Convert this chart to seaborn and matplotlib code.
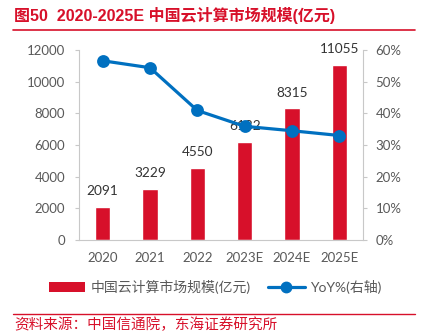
import matplotlib
matplotlib.use("Agg")
import matplotlib.pyplot as plt
import seaborn as sns
import pandas as pd
from matplotlib.lines import Line2D
from matplotlib.patches import Patch

categories = ["2020", "2021", "2022", "2023E", "2024E", "2025E"]
market_size = [2091, 3229, 4550, 6182, 8315, 11055]
yoy = [56.6, 54.4, 40.9, 35.9, 34.5, 33.0]
left_ticks = [0, 2000, 4000, 6000, 8000, 10000, 12000]
right_ticks = [0, 10, 20, 30, 40, 50, 60]

sns.set_style("white")
plt.rcParams['font.family'] = ['Lato', 'Noto Sans CJK SC', 'DejaVu Sans']

RED = "#d7102a"
BLUE = "#0070c0"
GRAY = "#595959"
SPINE = "#c8c8c8"

df = pd.DataFrame({"year": categories, "size": market_size, "yoy": yoy})

fig = plt.figure(figsize=(4.21, 3.34), dpi=100)
W, H = 421, 334
ax = fig.add_axes([79 / W, 1 - 240 / H, (363 - 79) / W, (240 - 50) / H])

sns.barplot(data=df, x="year", y="size", color=RED, width=0.32, ax=ax,
            saturation=1, order=categories)
ax.set_xlim(-0.5, 5.5)
ax.set_ylim(0, 12000)
ax.set_yticks(left_ticks)
ax.set_xlabel("")
ax.set_ylabel("")
ax.bar_label(ax.containers[0], labels=[str(v) for v in market_size],
             padding=7, fontsize=9.8, color="#333333")

ax2 = ax.twinx()
sns.pointplot(data=df, x="year", y="yoy", color=BLUE, markers="o",
              linestyles="-", ax=ax2, order=categories, markersize=7.5,
              linewidth=2.3)
ax2.set_xlim(-0.5, 5.5)
ax2.set_ylim(0, 60)
ax2.set_yticks(right_ticks)
ax2.set_yticklabels([f"{t}%" for t in right_ticks])
ax2.set_ylabel("")
ax2.set_xlabel("")

for a in (ax, ax2):
    a.spines["top"].set_visible(False)
    for s in ["left", "right", "bottom"]:
        a.spines[s].set_color(SPINE)
        a.spines[s].set_linewidth(0.8)
    a.tick_params(axis="y", colors=GRAY, labelsize=9.5, length=3, width=0.8,
                  color=SPINE, pad=7)
ax2.tick_params(axis="y", pad=6)
ax2.spines["left"].set_visible(False)
ax2.spines["bottom"].set_visible(False)
ax.spines["right"].set_visible(False)

ax.set_xticks(range(len(categories)))
ax.set_xticklabels(categories)
ax.tick_params(axis="x", colors=GRAY, labelsize=9.5, length=0, pad=9)
ax.set_xticks([i - 0.5 for i in range(len(categories) + 1)], minor=True)
ax.tick_params(axis="x", which="minor", length=3, width=0.8, color=SPINE)

# title
fig.text(14 / W, 1 - 16 / H, "图50  2020-2025E 中国云计算市场规模(亿元)",
         color=RED, fontsize=11.5, fontweight="bold", va="center", ha="left",
         family=["Liberation Sans", "Noto Sans CJK SC"])
fig.add_artist(Line2D([13 / W, 415 / W], [1 - 30 / H, 1 - 30 / H],
                      color=RED, lw=1.2))

# legend
handles = [Patch(facecolor=RED, edgecolor="none"),
           Line2D([0], [0], color=BLUE, lw=2.3, marker="o", markersize=7.5)]
fig.legend(handles, ["中国云计算市场规模(亿元)", "YoY%(右轴)"],
           loc="center", bbox_to_anchor=(215 / W, 1 - 287 / H), ncol=2,
           frameon=False, fontsize=10, handlelength=2.6, columnspacing=1.3,
           handletextpad=0.4, labelcolor=GRAY)

# source
fig.add_artist(Line2D([13 / W, 415 / W], [1 - 314 / H, 1 - 314 / H],
                      color=RED, lw=1.0))
fig.text(14 / W, 1 - 325 / H, "资料来源：中国信通院，东海证券研究所",
         color=RED, fontsize=10.5, va="center", ha="left",
         family=["Noto Sans CJK SC"])

fig.savefig("out.png", dpi=100)
